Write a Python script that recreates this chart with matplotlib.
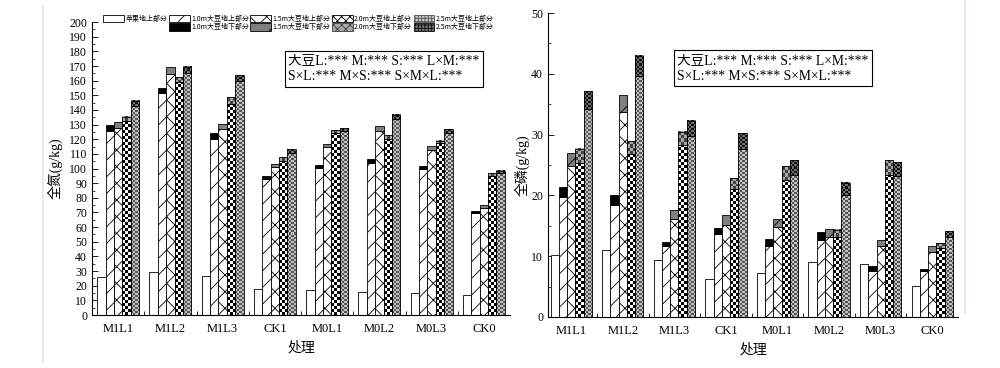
import matplotlib
matplotlib.use("Agg")
import matplotlib.pyplot as plt
import numpy as np
from matplotlib.patches import Patch
from matplotlib.lines import Line2D
from matplotlib.ticker import MultipleLocator, FixedLocator
from matplotlib.colors import ListedColormap

plt.rcParams['font.family'] = ['Liberation Serif', 'Noto Sans CJK SC']
plt.rcParams['hatch.linewidth'] = 0.6

categories = ['M1L1', 'M1L2', 'M1L3', 'CK1', 'M0L1', 'M0L2', 'M0L3', 'CK0']
legend_labels = ['苹果地上部分', '1.0m大豆地上部分', '1.5m大豆地上部分', '2.0m大豆地上部分', '2.5m大豆地上部分',
                 '1.0m大豆地下部分', '1.5m大豆地下部分', '2.0m大豆地下部分', '2.5m大豆地下部分']

# Total nitrogen (g/kg)
apple_N = [26, 29.3, 26.6, 17.5, 17, 15.5, 14.8, 13.4]
s10_up_N = [125.8, 151.3, 120.4, 92.6, 100.1, 104, 99.5, 69.4]
s10_dn_N = [3.7, 3.4, 3.6, 2.3, 2.3, 2.3, 2.2, 1.4]
s15_up_N = [127.4, 164.5, 126.7, 100.8, 114.5, 125.8, 112.6, 73.3]
s15_dn_N = [4.1, 4.5, 3.4, 2.2, 2.0, 3.2, 2.8, 1.6]
s20_up_N = [132.4, 159.3, 144, 105.4, 124.5, 120.4, 117.2, 94.9]
s20_dn_N = [3.0, 3.4, 4.6, 2.2, 1.8, 2.5, 1.8, 1.8]
s25_up_N = [142.6, 165, 160, 110.8, 125.6, 133.6, 124.5, 97.1]
s25_dn_N = [3.7, 4.5, 3.6, 2.7, 1.8, 2.9, 2.2, 1.4]

# Total phosphorus (g/kg)
apple_P = [10.2, 11.0, 9.4, 6.2, 7.3, 9.0, 8.7, 5.1]
s10_up_P = [19.7, 18.5, 11.6, 13.7, 11.7, 12.7, 7.6, 7.5]
s10_dn_P = [1.7, 1.6, 0.8, 1.0, 1.2, 1.2, 0.8, 0.4]
s15_up_P = [24.9, 33.7, 16.1, 15.2, 14.8, 13.2, 11.7, 10.7]
s15_dn_P = [2.1, 2.8, 1.5, 1.6, 1.4, 1.3, 1.0, 0.9]
s20_up_P = [25.3, 26.8, 28.3, 21.0, 22.6, 13.1, 23.4, 11.3]
s20_dn_P = [2.4, 2.1, 2.2, 1.8, 2.2, 1.2, 2.4, 0.8]
s25_up_P = [34.2, 39.6, 29.7, 27.7, 23.4, 20.1, 23.2, 13.2]
s25_dn_P = [2.9, 3.3, 2.6, 2.5, 2.4, 2.0, 2.3, 0.9]

stat_text = "大豆L:*** M:*** S:*** L×M:***\nS×L:*** M×S:*** S×M×L:***"

# hatch-style segments
styles = {
    'apple': dict(facecolor='white', hatch=None),
    'up10': dict(facecolor='white', hatch='//'),
    'dn10': dict(facecolor='black', hatch=None),
    'up15': dict(facecolor='white', hatch='xx'),
    'dn15': dict(facecolor='#808080', hatch='/'),
}
# checker-style segments: (light colour, dark colour, cell size in px)
checkers = {
    'up20': ('white', 'black', 3.0),
    'dn20': ('#a8a8a8', '#404040', 3.0),
    'up25': ('#c4c4c4', '#555555', 2.0),
    'dn25': ('#707070', '#101010', 2.0),
}

fig = plt.figure(figsize=(10, 3.68), dpi=100)
ax1 = fig.add_axes([0.092, 0.144, 0.418, 0.796])
ax2 = fig.add_axes([0.548, 0.1386, 0.41, 0.826])

w = 0.16
x = np.arange(len(categories))


def checker_bar(ax, pos, heights, bottoms, key):
    light, dark, cell = checkers[key]
    cmap = ListedColormap([light, dark])
    bb = ax.get_window_extent()
    x0, x1 = ax.get_xlim()
    y0, y1 = ax.get_ylim()
    pxx = bb.width / (x1 - x0)
    pxy = bb.height / (y1 - y0)
    for p, h, b in zip(pos, heights, bottoms):
        ncol = max(1, int(round(w * pxx / cell)))
        nrow = max(1, int(round(h * pxy / cell)))
        grid = (np.add.outer(np.arange(nrow), np.arange(ncol)) % 2).astype(float)
        ax.imshow(grid, extent=(p - w / 2, p + w / 2, b, b + h), origin='lower', aspect='auto',
                  interpolation='nearest', cmap=cmap, vmin=0, vmax=1, zorder=2)
    ax.bar(pos, heights, bottom=bottoms, width=w, facecolor='none', edgecolor='black',
           linewidth=0.6, zorder=3)


def draw(ax, xlim, ylim, apple, up10, dn10, up15, dn15, up20, dn20, up25, dn25):
    ax.set_xlim(*xlim)
    ax.set_ylim(*ylim)
    kw = dict(width=w, edgecolor='black', linewidth=0.6, zorder=3)
    ax.bar(x - 2 * w, apple, **kw, **styles['apple'])
    ax.bar(x - w, up10, **kw, **styles['up10'])
    ax.bar(x - w, dn10, bottom=up10, **kw, **styles['dn10'])
    ax.bar(x, up15, **kw, **styles['up15'])
    ax.bar(x, dn15, bottom=up15, **kw, **styles['dn15'])
    checker_bar(ax, x + w, up20, [0] * len(x), 'up20')
    checker_bar(ax, x + w, dn20, up20, 'dn20')
    checker_bar(ax, x + 2 * w, up25, [0] * len(x), 'up25')
    checker_bar(ax, x + 2 * w, dn25, up25, 'dn25')
    ax.set_xlim(*xlim)
    ax.set_ylim(*ylim)
    for s in ['top', 'right']:
        ax.spines[s].set_visible(False)
    ax.spines['left'].set_linewidth(0.8)
    ax.spines['bottom'].set_linewidth(0.8)
    ax.spines['left'].set_zorder(4)
    ax.spines['bottom'].set_zorder(4)
    ax.set_xticks(x)
    ax.set_xticklabels(categories, fontsize=9)
    ax.tick_params(axis='x', which='major', length=0, pad=6)
    ax.xaxis.set_minor_locator(FixedLocator(x[:-1] + 0.5))
    ax.tick_params(axis='x', which='minor', direction='in', length=3, width=0.6)
    ax.tick_params(axis='y', which='major', direction='in', length=4, width=0.6, labelsize=8.5)
    ax.tick_params(axis='y', which='minor', direction='in', length=2, width=0.5)
    ax.set_xlabel('处理', fontsize=10, labelpad=4)
    ax.yaxis.set_major_locator(MultipleLocator(10))
    ax.yaxis.set_minor_locator(MultipleLocator(5))


draw(ax1, (-0.5, 7.5), (0, 200), apple_N, s10_up_N, s10_dn_N, s15_up_N, s15_dn_N,
     s20_up_N, s20_dn_N, s25_up_N, s25_dn_N)
ax1.set_ylabel('全氮(g/kg)', fontsize=10, labelpad=5)

draw(ax2, (-0.45, 7.5), (0, 50), apple_P, s10_up_P, s10_dn_P, s15_up_P, s15_dn_P,
     s20_up_P, s20_dn_P, s25_up_P, s25_dn_P)
ax2.set_ylabel('全磷(g/kg)', fontsize=10, labelpad=1)


# legend handles: checker approximated by hatched patches
def legend_patch(key):
    if key in styles:
        return Patch(edgecolor='black', linewidth=0.6, **styles[key])
    light, dark, cell = checkers[key]
    return Patch(facecolor=light, edgecolor=dark, hatch='xxxx' if cell > 2.5 else '+++++', linewidth=0.6)


above = ['apple', 'up10', 'up15', 'up20', 'up25']
below = [None, 'dn10', 'dn15', 'dn20', 'dn25']
handles, labels = [], []
for i, (a, b) in enumerate(zip(above, below)):
    handles.append(legend_patch(a))
    labels.append(legend_labels[i])
    if b is None:
        handles.append(Patch(facecolor='none', edgecolor='none'))
        labels.append('')
    else:
        handles.append(legend_patch(b))
        labels.append(legend_labels[4 + i])
leg = ax1.legend(handles, labels, ncol=5, loc='upper left', bbox_to_anchor=(0.02, 1.035),
                 frameon=False, handlelength=3.0, handleheight=1.2,
                 handletextpad=0.2, columnspacing=0.2, labelspacing=0.1, borderaxespad=0,
                 prop={'family': ['Noto Sans CJK SC'], 'size': 5})

for ax, pos in [(ax1, (0.47, 0.89)), (ax2, (0.315, 0.866))]:
    ax.text(pos[0], pos[1], stat_text, transform=ax.transAxes, fontsize=9.8, va='top', ha='left',
            linespacing=1.3, zorder=5,
            bbox=dict(boxstyle='square,pad=0.25', facecolor='white', edgecolor='black', linewidth=0.8))

# faint page borders
fig.add_artist(Line2D([0.043, 0.043], [0.015, 0.985], color='#e4e4e4', linewidth=1.2))
fig.add_artist(Line2D([0.965, 0.965], [0.15, 1.0], color='#d8ecd8', linewidth=1.2))

fig.savefig('out.png', dpi=100)
